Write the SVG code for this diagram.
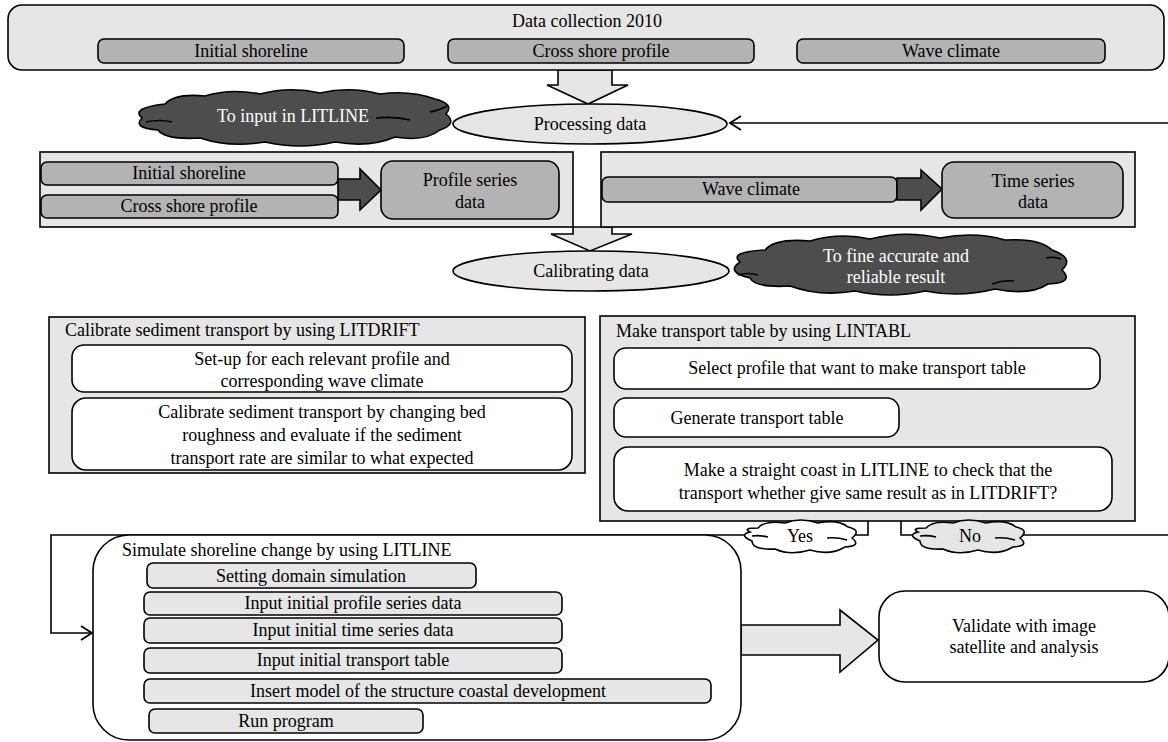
<svg xmlns="http://www.w3.org/2000/svg" width="1168" height="742" viewBox="0 0 1168 742">
<defs>
<style>
text{font-family:"Liberation Serif","Times New Roman",serif;font-size:18px;fill:#000}
.c{text-anchor:middle}
.w{fill:#fff}
.lt{fill:#e6e6e6;stroke:#000;stroke-width:1.6}
.md{fill:#b3b3b3;stroke:#000;stroke-width:1.6}
.dk{fill:#4d4d4d;stroke:#000;stroke-width:1.6}
.wh{fill:#fff;stroke:#000;stroke-width:1.6}
.ln{fill:none;stroke:#000;stroke-width:1.6}
</style>
<marker id="open" markerUnits="userSpaceOnUse" markerWidth="14" markerHeight="16" refX="12" refY="8" orient="auto">
<path d="M1,1 L12,8 L1,15" fill="none" stroke="#000" stroke-width="1.8"/>
</marker>
</defs>
<rect width="1168" height="742" fill="#fff"/>

<g id="connectors">
<path class="ln" d="M1168,123 L730,123" marker-end="url(#open)"/>
<path class="ln" d="M868,521 L868,535 L852,535"/>
<path class="ln" d="M745,535 L51,535 L51,633 L92,633" marker-end="url(#open)"/>
<path class="ln" d="M901,521 L901,535 L916,535"/>
<path class="ln" d="M1022,535 L1168,535"/>
<path class="lt" d="M558,70 L612,70 L612,85 L628,85 L588,104 L547,85 L558,85 Z"/>
<path class="lt" d="M573,227 L612,227 L612,234 L632,234 L590,251 L551,234 L573,234 Z"/>
<path class="lt" d="M741,625 L840,625 L840,610 L878,640 L840,672 L840,655 L741,655 Z"/>
</g>

<g id="data-collection">
<rect class="lt" x="8" y="5" width="1156" height="65" rx="14"/>
<text class="c" x="587" y="27">Data collection 2010</text>
<rect class="md" x="98" y="39" width="306" height="24" rx="6"/>
<text class="c" x="251" y="57">Initial shoreline</text>
<rect class="md" x="448" y="39" width="306" height="24" rx="6"/>
<text class="c" x="601" y="57">Cross shore profile</text>
<rect class="md" x="797" y="39" width="308" height="24" rx="6"/>
<text class="c" x="951" y="57">Wave climate</text>
</g>

<g id="cloud-input">
<path class="dk" d="M165,104 Q175,93 205,96 Q230,88 260,94 Q290,86 320,93 Q350,86 380,94 Q410,90 435,99 Q455,104 446,114 Q458,124 440,130 Q425,142 395,137 Q370,148 335,142 Q300,150 265,142 Q230,148 200,138 Q165,140 158,130 Q132,128 142,118 Q130,108 165,104 Z"/>
<path class="ln" d="M146,122 Q160,119 172,122 M376,118 Q395,116 410,120 M430,112 Q440,110 447,106"/>
<text class="c w" x="293" y="122">To input in LITLINE</text>
</g>

<g id="processing">
<ellipse class="lt" cx="590" cy="124" rx="137" ry="20"/>
<text class="c" x="590" y="130">Processing data</text>
</g>

<g id="profile-group">
<rect class="lt" x="40" y="152" width="533" height="75"/>
<rect class="md" x="41" y="162" width="297" height="23" rx="6"/>
<text class="c" x="189" y="179">Initial shoreline</text>
<rect class="md" x="41" y="195" width="297" height="23" rx="6"/>
<text class="c" x="189" y="212">Cross shore profile</text>
<path class="dk" d="M338,179 L360,179 L360,169 L381,190 L360,210 L360,200 L338,200 Z"/>
<rect class="md" x="381" y="161" width="178" height="58" rx="12"/>
<text class="c" x="470" y="186">Profile series</text>
<text class="c" x="470" y="208">data</text>
</g>

<g id="time-group">
<rect class="lt" x="601" y="152" width="534" height="75"/>
<rect class="md" x="602" y="177" width="295" height="25" rx="6"/>
<text class="c" x="751" y="195">Wave climate</text>
<path class="dk" d="M897,178 L921,178 L921,170 L942,189 L921,210 L921,200 L897,200 Z"/>
<rect class="md" x="942" y="162" width="181" height="56" rx="12"/>
<text class="c" x="1033" y="187">Time series</text>
<text class="c" x="1033" y="208">data</text>
</g>

<g id="calibrating">
<ellipse class="lt" cx="591" cy="271" rx="138" ry="20"/>
<text class="c" x="591" y="277">Calibrating data</text>
</g>

<g id="cloud-accurate">
<path class="dk" d="M765,250 Q775,238 810,241 Q840,232 870,239 Q905,230 940,238 Q975,231 1005,240 Q1040,238 1052,250 Q1075,258 1062,270 Q1075,283 1048,284 Q1030,296 995,289 Q960,298 925,291 Q890,299 855,291 Q820,297 790,286 Q755,288 750,278 Q725,272 740,262 Q728,252 765,250 Z"/>
<path class="ln" d="M738,275 Q748,272 758,275 M1046,258 Q1054,256 1061,259 M992,284 Q1003,280 1014,281"/>
<text class="c w" x="896" y="262">To fine accurate and</text>
<text class="c w" x="896" y="283">reliable result</text>
</g>

<g id="litdrift">
<rect class="lt" x="49" y="317" width="536" height="156"/>
<text x="65" y="336">Calibrate sediment transport by using LITDRIFT</text>
<rect class="wh" x="72" y="345" width="500" height="47" rx="12"/>
<text class="c" x="322" y="365">Set-up for each relevant profile and</text>
<text class="c" x="322" y="387">corresponding wave climate</text>
<rect class="wh" x="72" y="398" width="500" height="72" rx="14"/>
<text class="c" x="322" y="418">Calibrate sediment transport by changing bed</text>
<text class="c" x="322" y="441">roughness and evaluate if the sediment</text>
<text class="c" x="322" y="464">transport rate are similar to what expected</text>
</g>

<g id="lintabl">
<rect class="lt" x="600" y="316" width="535" height="205"/>
<text x="616" y="337">Make transport table by using LINTABL</text>
<rect class="wh" x="614" y="348" width="486" height="41" rx="12"/>
<text class="c" x="857" y="374">Select profile that want to make transport table</text>
<rect class="wh" x="614" y="398" width="285" height="39" rx="12"/>
<text class="c" x="757" y="424">Generate transport table</text>
<rect class="wh" x="614" y="447" width="498" height="64" rx="14"/>
<text class="c" x="868" y="476">Make a straight coast in LITLINE to check that the</text>
<text class="c" x="868" y="499">transport whether give same result as in LITDRIFT?</text>
</g>

<g id="yes">
<path class="wh" d="M758,528 Q765,520 785,523 Q800,517 818,523 Q838,519 848,527 Q862,530 852,538 Q862,546 845,547 Q830,556 810,550 Q790,556 775,549 Q752,550 752,541 Q738,535 750,532 Q742,528 758,528 Z"/>
<path class="ln" d="M827,538 Q837,537 847,540 M752,536 Q760,535 768,537"/>
<text class="c" x="800" y="542">Yes</text>
</g>

<g id="no">
<path class="lt" d="M926,528 Q933,520 953,523 Q968,517 986,523 Q1006,519 1016,527 Q1030,530 1020,538 Q1030,546 1013,547 Q998,556 978,550 Q958,556 943,549 Q920,550 920,541 Q906,535 918,532 Q910,528 926,528 Z"/>
<path class="ln" d="M995,538 Q1005,537 1015,540 M920,536 Q928,535 936,537"/>
<text class="c" x="970" y="542">No</text>
</g>

<g id="simulate">
<rect class="wh" x="93" y="535" width="648" height="205" rx="36"/>
<text x="122" y="556">Simulate shoreline change by using LITLINE</text>
<rect class="lt" x="147" y="563" width="329" height="25" rx="6"/>
<text class="c" x="311" y="582">Setting domain simulation</text>
<rect class="lt" x="144" y="592" width="418" height="23" rx="6"/>
<text class="c" x="353" y="609">Input initial profile series data</text>
<rect class="lt" x="144" y="618" width="418" height="25" rx="6"/>
<text class="c" x="353" y="636">Input initial time series data</text>
<rect class="lt" x="144" y="648" width="418" height="25" rx="6"/>
<text class="c" x="353" y="666">Input initial transport table</text>
<rect class="lt" x="144" y="679" width="567" height="24" rx="6"/>
<text class="c" x="428" y="697">Insert model of the structure coastal development</text>
<rect class="lt" x="149" y="709" width="274" height="24" rx="6"/>
<text class="c" x="286" y="727">Run program</text>
</g>

<g id="validate">
<rect class="wh" x="879" y="591" width="290" height="91" rx="26"/>
<text class="c" x="1024" y="632">Validate with image</text>
<text class="c" x="1024" y="653">satellite and analysis</text>
</g>
</svg>
